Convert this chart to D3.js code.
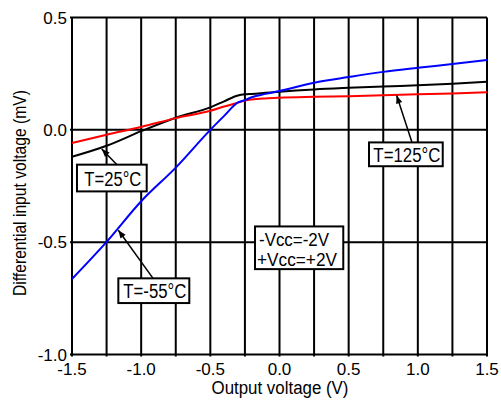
<!DOCTYPE html>
<html>
<head>
<meta charset="utf-8">
<script src="https://cdn.jsdelivr.net/npm/d3@7"></script>
<style>
  html, body { margin: 0; padding: 0; background: #fff; }
  svg { display: block; }
  text { font-family: "Liberation Sans", Arial, sans-serif; fill: #000; }
</style>
</head>
<body>
<svg id="chart" width="501" height="401"></svg>
<script>
// Output voltage (V) sample points for each temperature curve
const vout = [-1.5, -1.25, -1.0, -0.75, -0.5, -0.4, -0.3, -0.25, -0.2, -0.1, 0.0, 0.25, 0.5, 0.75, 1.0, 1.25, 1.5];

// Differential input voltage (mV) at each output voltage
const vin25  = [-0.12, -0.071, -0.006, 0.054, 0.100, 0.127, 0.153, 0.158, 0.160, 0.165, 0.170, 0.180, 0.187, 0.193, 0.198, 0.205, 0.214];
const vin125 = [-0.059, -0.022, 0.013, 0.052, 0.085, 0.104, 0.121, 0.130, 0.135, 0.140, 0.143, 0.147, 0.150, 0.154, 0.158, 0.162, 0.167];
const vinM55 = [-0.664, -0.499, -0.318, -0.168, 0.0, 0.062, 0.122, 0.132, 0.145, 0.160, 0.173, 0.210, 0.235, 0.258, 0.276, 0.293, 0.311];

const xTicks = [-1.5, -1.0, -0.5, 0.0, 0.5, 1.0, 1.5];
const xGrid  = [-1.5, -1.25, -1.0, -0.75, -0.5, -0.25, 0.0, 0.25, 0.5, 0.75, 1.0, 1.25, 1.5];
const yTicks = [-1.0, -0.5, 0.0, 0.5];

const series = [
  { name: "T=25°C",  values: vin25,  color: "#000000" },
  { name: "T=125°C", values: vin125, color: "#ff0000" },
  { name: "T=-55°C", values: vinM55, color: "#0000ff" }
];

// Callout labels: box corners and arrow tip in data units, text width in px
const callouts = [
  { text: "T=25°C",  x0: -1.464, x1: -0.960, y0: -0.155, y1: -0.274, fromX: -1.175, tipX: -1.285, tipY: -0.085, w: 57 },
  { text: "T=125°C", x0: 0.647,  x1: 1.180,  y0: -0.056, y1: -0.162, fromX: 0.958,  tipX: 0.847,  tipY: 0.153,  w: 67 },
  { text: "T=-55°C", x0: -1.165, x1: -0.652, y0: -0.661, y1: -0.771, fromX: -0.914, tipX: -1.165, tipY: -0.447, w: 63 }
];
const supplyLines = ["-Vcc=-2V", "+Vcc=+2V"];
const supplyWidths = [70, 80];
const supplyBox = { x0: -0.177, x1: 0.461, y0: -0.43, y1: -0.62 };

const svg = d3.select("#chart");
const plotL = 72, plotR = 487, plotT = 17.5, plotB = 354.5;

const x = d3.scaleLinear().domain([-1.5, 1.5]).range([plotL, plotR]);
const y = d3.scaleLinear().domain([-1.0, 0.5]).range([plotB, plotT]);
const fmt = d => d.toFixed(1);

// grid
const g = svg.append("g");
g.selectAll("line.vg").data(xGrid).join("line")
  .attr("x1", d => x(d)).attr("x2", d => x(d))
  .attr("y1", plotT).attr("y2", plotB + 2)
  .attr("stroke", "#000").attr("stroke-width", 2);
g.selectAll("line.hg").data(yTicks).join("line")
  .attr("x1", plotL - 2).attr("x2", plotR)
  .attr("y1", d => y(d)).attr("y2", d => y(d))
  .attr("stroke", "#000").attr("stroke-width", 2);

// tick labels
svg.append("g").selectAll("text").data(xTicks).join("text")
  .attr("x", d => x(d)).attr("y", 375)
  .attr("text-anchor", "middle")
  .style("font-size", "17px")
  .text(fmt);
svg.append("g").selectAll("text").data(yTicks).join("text")
  .attr("x", 67).attr("y", d => y(d) + 6)
  .attr("text-anchor", "end")
  .style("font-size", "17px")
  .text(fmt);

// axis titles
svg.append("text")
  .attr("x", 211.5).attr("y", 394)
  .attr("textLength", 137).attr("lengthAdjust", "spacingAndGlyphs")
  .style("font-size", "18px")
  .text("Output voltage (V)");
svg.append("text")
  .attr("transform", "translate(26,296) rotate(-90)")
  .attr("textLength", 206).attr("lengthAdjust", "spacingAndGlyphs")
  .style("font-size", "18px")
  .text("Differential input voltage (mV)");

// curves
const line = d3.line().x(d => x(d[0])).y(d => y(d[1])).curve(d3.curveMonotoneX);
svg.append("g").selectAll("path").data(series).join("path")
  .attr("d", s => line(vout.map((v, i) => [v, s.values[i]])))
  .attr("fill", "none").attr("stroke", s => s.color).attr("stroke-width", 2);

// arrow marker
svg.append("defs").append("marker")
  .attr("id", "arrow").attr("viewBox", "0 0 10 10")
  .attr("refX", 10).attr("refY", 5)
  .attr("markerWidth", 9).attr("markerHeight", 8)
  .attr("markerUnits", "userSpaceOnUse")
  .attr("orient", "auto")
  .append("path").attr("d", "M0,1 L10,5 L0,9 Z").attr("fill", "#000");

const cg = svg.append("g").selectAll("g").data(callouts).join("g");
cg.append("line")
  .attr("x1", d => x(d.fromX)).attr("y1", d => y(d.y0))
  .attr("x2", d => x(d.tipX)).attr("y2", d => y(d.tipY))
  .attr("stroke", "#000").attr("stroke-width", 1.5)
  .attr("marker-end", "url(#arrow)");
cg.append("rect")
  .attr("x", d => x(d.x0)).attr("y", d => y(d.y0))
  .attr("width", d => x(d.x1) - x(d.x0)).attr("height", d => y(d.y1) - y(d.y0))
  .attr("fill", "#fff").attr("stroke", "#000").attr("stroke-width", 2);
cg.append("text")
  .attr("x", d => (x(d.x0) + x(d.x1)) / 2 - d.w / 2 + 1)
  .attr("y", d => (y(d.y0) + y(d.y1)) / 2 + 7.5)
  .attr("textLength", d => d.w).attr("lengthAdjust", "spacingAndGlyphs")
  .style("font-size", "20px")
  .text(d => d.text);

// supply voltage box
svg.append("rect")
  .attr("x", x(supplyBox.x0)).attr("y", y(supplyBox.y0))
  .attr("width", x(supplyBox.x1) - x(supplyBox.x0))
  .attr("height", y(supplyBox.y1) - y(supplyBox.y0))
  .attr("fill", "#fff").attr("stroke", "#000").attr("stroke-width", 2);
svg.append("g").selectAll("text").data(supplyLines).join("text")
  .attr("x", (d, i) => x(supplyBox.x0) + (i === 0 ? 4 : 2))
  .attr("y", (d, i) => y(supplyBox.y0) + 20 + i * 20)
  .attr("textLength", (d, i) => supplyWidths[i]).attr("lengthAdjust", "spacingAndGlyphs")
  .style("font-size", "18px")
  .text(d => d);
</script>
</body>
</html>
